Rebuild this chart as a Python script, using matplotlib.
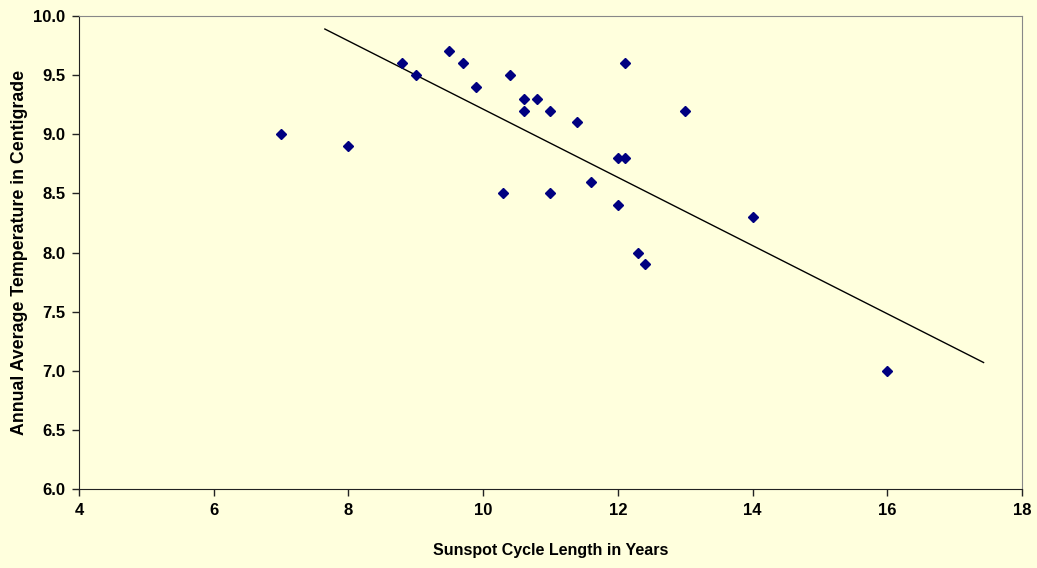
import matplotlib.pyplot as plt
import numpy as np

cycle_len = [7.0, 8.0, 8.8, 9.0, 9.5, 9.7, 9.9, 10.4, 10.3, 10.6, 10.6, 10.8, 11.0,
             11.0, 11.4, 11.6, 12.0, 12.1, 12.0, 12.1, 12.3, 12.4, 13.0, 14.0, 16.0]
temp = [9.0, 8.9, 9.6, 9.5, 9.7, 9.6, 9.4, 9.5, 8.5, 9.3, 9.2, 9.3, 9.2,
        8.5, 9.1, 8.6, 8.8, 8.8, 8.4, 9.6, 8.0, 7.9, 9.2, 8.3, 7.0]
# trendline as drawn in the original chart (end points)
trend_x = [7.65, 17.43]
trend_y = [9.89, 7.07]

bg = '#FFFFDD'
plt.rcParams['font.family'] = ['Liberation Sans', 'DejaVu Sans']
plt.rcParams['font.weight'] = 'bold'
plt.rcParams['axes.labelweight'] = 'bold'

fig = plt.figure(figsize=(10.37, 5.68), dpi=100, facecolor=bg)
ax = fig.add_axes([0.0762, 0.139, 0.9093, 0.8328], facecolor=bg)

ax.plot(trend_x, trend_y, color='black', lw=1)
ax.plot(cycle_len, temp, 'D', color='#000080', markersize=5.5, zorder=3)

ax.set_xlim(4, 18)
ax.set_ylim(6, 10)
ax.set_xticks(range(4, 19, 2))
yt = np.arange(6, 10.01, 0.5)
ax.set_yticks(yt)
ax.set_yticklabels(['%.1f' % v for v in yt])
ax.tick_params(labelsize=12, length=5, width=1, color='#222222', pad=5)
for s in ['left', 'bottom']:
    ax.spines[s].set_color('#222222')
for s in ['top', 'right']:
    ax.spines[s].set_color('#888888')

ax.set_xlabel('Sunspot Cycle Length in Years', fontsize=11.5)
ax.set_ylabel('Annual Average Temperature in Centigrade', fontsize=12.8)
ax.xaxis.set_label_coords(0.5, -0.114)
ax.yaxis.set_label_coords(-0.054, 0.5)

fig.savefig('out.png', facecolor=bg)
